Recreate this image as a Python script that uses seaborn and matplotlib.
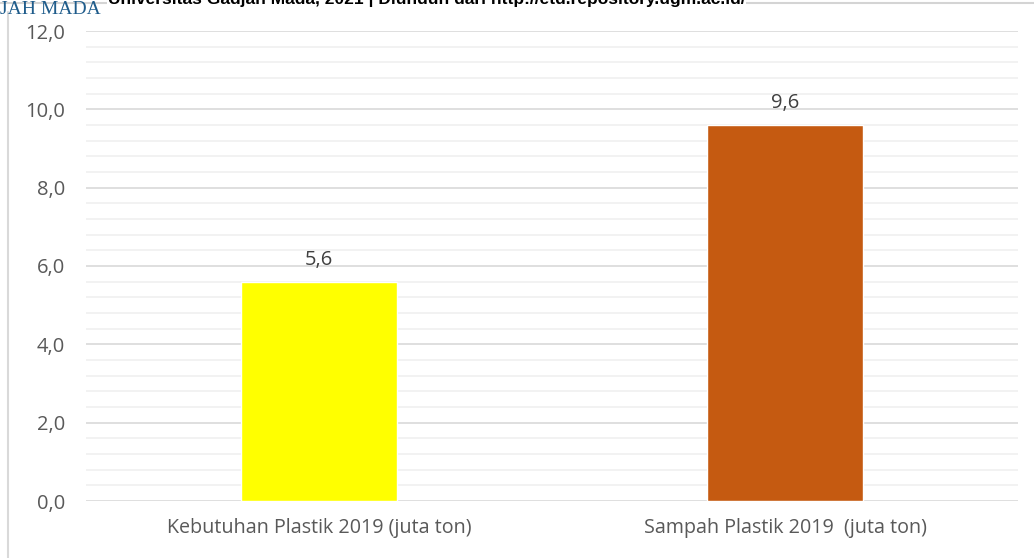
import matplotlib
matplotlib.use("Agg")
import matplotlib.pyplot as plt
import seaborn as sns
import pandas as pd
import numpy as np
from matplotlib.lines import Line2D
from matplotlib.ticker import MultipleLocator, FuncFormatter

categories = ["Kebutuhan Plastik 2019 (juta ton)", "Sampah Plastik 2019  (juta ton)"]
values = [5.6, 9.6]
colors = ["#FFFF00", "#C55A11"]
header = "Universitas Gadjah Mada, 2021 | Diunduh dari http://etd.repository.ugm.ac.id/"
logo = "UNIVERSITAS GADJAH MADA"

sns.set_theme(style="white")
plt.rcParams["font.family"] = ["Open Sans", "DejaVu Sans"]

W, H = 1034, 558
fig = plt.figure(figsize=(W / 100, H / 100), dpi=100)
ax = fig.add_axes([86 / W, 57 / H, (1018 - 86) / W, (501 - 31) / H])

df = pd.DataFrame({"cat": categories, "val": values})
sns.barplot(data=df, x="cat", y="val", hue="cat", palette=colors, width=0.333,
            legend=False, ax=ax, saturation=1, zorder=3)

ax.set_xlim(-0.5, 1.5)
ax.set_ylim(0, 12)
ax.yaxis.set_major_locator(MultipleLocator(2))
ax.yaxis.set_minor_locator(MultipleLocator(0.4))
ax.yaxis.set_major_formatter(FuncFormatter(lambda v, p: f"{v:.1f}".replace(".", ",")))
ax.grid(axis="y", which="major", color="#d9d9d9", lw=1.2, zorder=0)
ax.grid(axis="y", which="minor", color="#f0f0f0", lw=1.2, zorder=0)
ax.set_axisbelow(True)
for s in ax.spines.values():
    s.set_visible(False)
ax.tick_params(axis="both", which="both", length=0)
ax.tick_params(axis="y", pad=15, labelsize=14.5, labelcolor="#595959")
ax.tick_params(axis="x", pad=12, labelsize=14.2, labelcolor="#595959")
ax.set_xlabel("")
ax.set_ylabel("")

for i, v in enumerate(values):
    ax.annotate(f"{v:.1f}".replace(".", ","), xy=(i, v), xytext=(0, 12),
                textcoords="offset points", ha="center", va="baseline",
                fontsize=14.5, color="#404040")

# page frame lines
fig.add_artist(Line2D([8 / W, 8 / W], [0, 1 - 12 / H], transform=fig.transFigure,
                      color="#d9d9d9", lw=1.5))
fig.add_artist(Line2D([0, 1], [1 - 3 / H, 1 - 3 / H], transform=fig.transFigure,
                      color="#d4d4d4", lw=1.5))

fig.text(108 / W, 1 - 4 / H, header, ha="left", va="baseline", fontsize=12.5,
         fontweight="bold", family=["Liberation Sans"], color="#000000",
         bbox=dict(facecolor="white", edgecolor="none", pad=0.5))
fig.text(101 / W, 1 - 13.5 / H, logo, ha="right", va="baseline", fontsize=14,
         family=["Liberation Serif"], color="#1f5c8b")

fig.savefig("out.png", dpi=100, facecolor="white")
